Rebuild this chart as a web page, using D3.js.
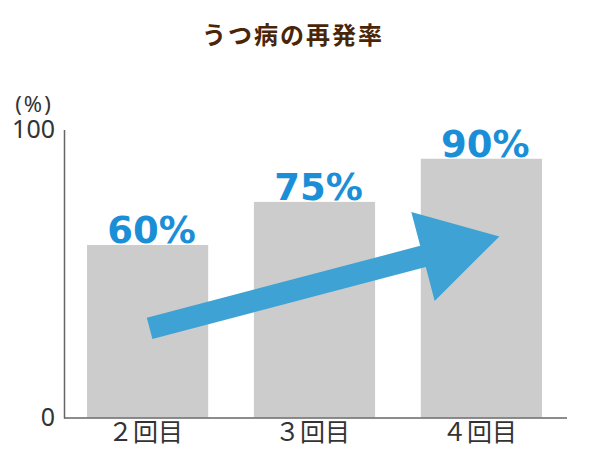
<!DOCTYPE html>
<html>
<head>
<meta charset="utf-8">
<script src="https://cdn.jsdelivr.net/npm/d3@7"></script>
<style>
	body { margin: 0; background: #fff; }
	svg { display: block; }
</style>
</head>
<body>
<svg id="chart"></svg>
<script>
	const categories = ["２回目", "３回目", "４回目"];
	const values = [60, 75, 90];
	const valueLabels = ["60%", "75%", "90%"];
	const yTicks = [0, 100];
	const titleText = "うつ病の再発率";
	const unitText = "(%)";
	// arrow runs from the first to the last bar
	const arrowFrom = { cat: "２回目", value: 31, dx: 2 };
	const arrowTo = { cat: "４回目", value: 63, dx: 18 };

	const width = 600, height = 450;
	const svg = d3.select("#chart")
		.attr("width", width)
		.attr("height", height);

	const x = d3.scaleBand()
		.domain(categories)
		.range([65, 564])
		.paddingInner(0.274)
		.paddingOuter(0.132);

	const y = d3.scaleLinear()
		.domain([0, 100])
		.range([417.5, 130]);

	// title
	svg.append("text")
		.attr("x", 293)
		.attr("y", 44)
		.attr("text-anchor", "middle")
		.attr("font-family", "'Noto Sans CJK JP', sans-serif")
		.attr("font-weight", "bold")
		.attr("font-size", 24)
		.attr("letter-spacing", 2)
		.attr("fill", "#4a2608")
		.text(titleText);

	// bars
	svg.selectAll("rect.bar")
		.data(values)
		.enter()
		.append("rect")
		.attr("class", "bar")
		.attr("x", function(d, i) { return x(categories[i]) })
		.attr("y", function(d) { return y(d) })
		.attr("width", x.bandwidth())
		.attr("height", function(d) { return y(0) - y(d) })
		.attr("fill", "#cccccc");

	// value labels
	svg.selectAll("text.val")
		.data(values)
		.enter()
		.append("text")
		.attr("class", "val")
		.attr("x", function(d, i) { return x(categories[i]) + x.bandwidth() / 2 + 4 })
		.attr("y", function(d) { return y(d) - 2 })
		.attr("text-anchor", "middle")
		.attr("font-family", "'DejaVu Sans', sans-serif")
		.attr("font-weight", "bold")
		.attr("font-size", 37)
		.attr("fill", "#1a8fd8")
		.text(function(d, i) { return valueLabels[i] });

	// arrow
	const p0 = [x(arrowFrom.cat) + x.bandwidth() / 2 + arrowFrom.dx, y(arrowFrom.value)];
	const p1 = [x(arrowTo.cat) + x.bandwidth() / 2 + arrowTo.dx, y(arrowTo.value)];
	const len = Math.hypot(p1[0] - p0[0], p1[1] - p0[1]);
	const ux = (p1[0] - p0[0]) / len, uy = (p1[1] - p0[1]) / len;
	const nx = -uy, ny = ux;
	const shaftHalf = 11, headHalf = 46, headLen = 79;
	const bx = p1[0] - ux * headLen, by = p1[1] - uy * headLen;
	const pts = [
		[p0[0] + nx * shaftHalf, p0[1] + ny * shaftHalf],
		[bx + nx * shaftHalf, by + ny * shaftHalf],
		[bx + nx * headHalf, by + ny * headHalf],
		p1,
		[bx - nx * headHalf, by - ny * headHalf],
		[bx - nx * shaftHalf, by - ny * shaftHalf],
		[p0[0] - nx * shaftHalf, p0[1] - ny * shaftHalf]
	];
	svg.append("path")
		.attr("d", d3.line()(pts) + "Z")
		.attr("fill", "#3ea3d4");

	// axes
	svg.append("line")
		.attr("x1", 64.5).attr("x2", 64.5)
		.attr("y1", y(100)).attr("y2", y(0) + 1)
		.attr("stroke", "#666").attr("stroke-width", 1.5);
	svg.append("line")
		.attr("x1", 64).attr("x2", 567)
		.attr("y1", y(0) + 0.5).attr("y2", y(0) + 0.5)
		.attr("stroke", "#666").attr("stroke-width", 1.5);

	svg.selectAll("text.ytick")
		.data(yTicks)
		.enter()
		.append("text")
		.attr("class", "ytick")
		.attr("x", 55)
		.attr("y", function(d) { return y(d) + 8 })
		.attr("text-anchor", "end")
		.attr("font-family", "'Noto Sans', sans-serif")
		.attr("font-size", 25)
		.attr("fill", "#333")
		.text(function(d) { return d });

	svg.append("text")
		.attr("x", 34)
		.attr("y", 112)
		.attr("text-anchor", "middle")
		.attr("font-family", "'Noto Sans', sans-serif")
		.attr("font-size", 22)
		.attr("letter-spacing", 2)
		.attr("fill", "#333")
		.text(unitText);

	svg.selectAll("text.cat")
		.data(categories)
		.enter()
		.append("text")
		.attr("class", "cat")
		.attr("x", function(d) { return x(d) + x.bandwidth() / 2 - 2 })
		.attr("y", 441)
		.attr("text-anchor", "middle")
		.attr("font-family", "'Noto Sans CJK JP', sans-serif")
		.attr("font-size", 25)
		.attr("fill", "#333")
		.text(function(d) { return d });
</script>
</body>
</html>
